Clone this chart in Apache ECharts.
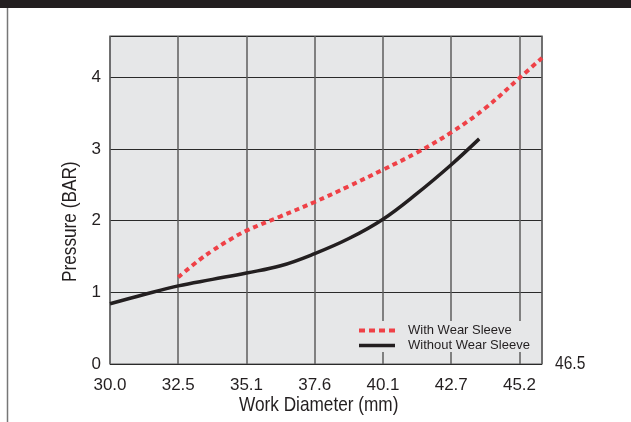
<!DOCTYPE html>
<html>
<head>
<meta charset="utf-8">
<script src="https://cdn.jsdelivr.net/npm/echarts@6/dist/echarts.min.js"></script>
<style>
html,body{margin:0;padding:0;background:#fff;}
#c{width:631px;height:422px;}
</style>
</head>
<body>
<div id="c"></div>
<script>
// Tick labels for the x axis (Work Diameter, mm), evenly spaced positions 0..6
var xTickLabels = ['30.0', '32.5', '35.1', '37.6', '40.1', '42.7', '45.2'];
var xEndLabel = '46.5';
// Series values: [tick position, pressure (BAR)]
var withSleeveX = [1, 1.32, 1.5, 1.75, 2, 2.5, 3, 3.5, 4, 4.5, 5, 5.5, 6, 6.33];
var withSleeveY = [1.21, 1.46, 1.58, 1.73, 1.86, 2.06, 2.26, 2.48, 2.71, 2.95, 3.23, 3.57, 3.99, 4.27];
var withoutSleeveX = [0, 0.5, 1, 1.5, 2, 2.5, 3, 3.5, 4, 4.5, 5, 5.41];
var withoutSleeveY = [0.84, 0.97, 1.09, 1.18, 1.27, 1.37, 1.54, 1.75, 2.02, 2.38, 2.78, 3.14];
var seriesNames = ['With Wear Sleeve', 'Without Wear Sleeve'];

function zip(xs, ys) { return xs.map(function (x, i) { return [x, ys[i]]; }); }

var FONT = '"Liberation Sans", Arial, sans-serif';
var RED = '#ef4147', BLACK = '#231f20';
var chart = echarts.init(document.getElementById('c'), null, {renderer: 'canvas'});
chart.setOption({
  animation: false,
  backgroundColor: '#ffffff',
  textStyle: {fontFamily: FONT},
  grid: {
    left: 110, top: 36, width: 432, height: 328,
    show: true, backgroundColor: '#e6e7e8', borderColor: '#8a8a8a', borderWidth: 1.5
  },
  xAxis: {
    type: 'value', min: 0, max: 6.33, interval: 1,
    axisLine: {show: false}, axisTick: {show: false},
    splitLine: {show: true, lineStyle: {color: '#5e5e5e', width: 1.5}},
    axisLabel: {
      fontFamily: FONT, fontSize: 17, color: BLACK, margin: 13,
      showMaxLabel: false,
      formatter: function (v) {
        var r = Math.round(v);
        return Math.abs(v - r) < 1e-6 && xTickLabels[r] !== undefined ? xTickLabels[r] : '';
      }
    }
  },
  yAxis: {
    type: 'value', min: 0, max: 4.575, interval: 1,
    axisLine: {show: false}, axisTick: {show: false},
    splitLine: {show: true, lineStyle: {color: '#2a2a2a', width: 1.2}},
    axisLabel: {
      fontFamily: FONT, fontSize: 17, color: BLACK, margin: 9,
      showMaxLabel: false,
      formatter: function (v) { return Math.abs(v - Math.round(v)) < 1e-6 ? String(Math.round(v)) : ''; }
    }
  },
  legend: {
    left: 350, top: 321, orient: 'vertical',
    backgroundColor: '#e6e7e8', padding: [3, 7, 0, 7],
    itemWidth: 36, itemHeight: 14, itemGap: 2,
    itemStyle: {opacity: 0},
    textStyle: {fontFamily: FONT, fontSize: 13, color: BLACK, padding: [0, 0, 0, 8]},
    data: [
      {name: seriesNames[0], lineStyle: {width: 4, color: RED, type: [6, 4]}},
      {name: seriesNames[1], lineStyle: {width: 3.5, color: BLACK}}
    ]
  },
  graphic: [
    {type: 'rect', left: 0, top: 0, shape: {width: 631, height: 8}, style: {fill: BLACK}, silent: true},
    {type: 'line', shape: {x1: 7.5, y1: 8, x2: 7.5, y2: 422}, style: {stroke: '#777777', lineWidth: 1.5}, silent: true},
    {type: 'text', x: 555, y: 354, scaleX: 0.82, style: {text: xEndLabel, font: '19px ' + FONT, fill: BLACK}},
    {type: 'text', x: 239, y: 395, scaleX: 0.82, style: {text: 'Work Diameter (mm)', font: '21px ' + FONT, fill: BLACK}},
    {type: 'text', x: 60, y: 282, rotation: Math.PI / 2, scaleX: 0.82, style: {text: 'Pressure (BAR)', font: '21px ' + FONT, fill: BLACK}}
  ],
  series: [
    {
      name: seriesNames[0], type: 'line', smooth: 0.4, symbol: 'none',
      data: zip(withSleeveX, withSleeveY),
      lineStyle: {color: RED, width: 4, type: [5, 4]},
      itemStyle: {color: RED}
    },
    {
      name: seriesNames[1], type: 'line', smooth: 0.4, symbol: 'none',
      data: zip(withoutSleeveX, withoutSleeveY),
      lineStyle: {color: BLACK, width: 3.5},
      itemStyle: {color: BLACK}
    }
  ]
});
</script>
</body>
</html>
